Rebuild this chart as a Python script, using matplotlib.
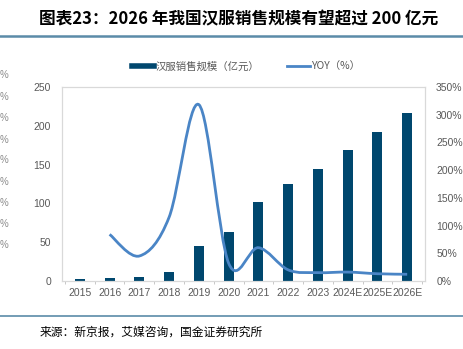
import matplotlib
matplotlib.use("Agg")
import matplotlib.pyplot as plt
import numpy as np
from matplotlib.path import Path
from matplotlib.patches import PathPatch
from matplotlib.lines import Line2D
from matplotlib.ticker import FuncFormatter

plt.rcParams['font.family'] = ['Noto Sans CJK SC', 'DejaVu Sans']

years = ['2015', '2016', '2017', '2018', '2019', '2020', '2021', '2022', '2023',
         '2024E', '2025E', '2026E']
sales = [1.9, 4.0, 5.3, 10.9, 45.5, 63.5, 101.5, 125.0, 144.7, 168.4, 191.6, 216.0]
yoy = [None, 84, 45, 115, 318, 32, 60, 20, 15, 16, 13, 12]

bar_color = '#00476E'
line_color = '#4A85C6'
grey = '#595959'
tick_font = 'Liberation Sans'

fig = plt.figure(figsize=(4.64, 3.49), dpi=100)
ax = fig.add_axes([0.1336, 0.195, 0.7824, 0.556])
ax2 = ax.twinx()

x = np.arange(len(years))
ax.bar(x, sales, width=0.34, color=bar_color, zorder=2)
ax.set_ylim(0, 250)
ax.set_yticks(range(0, 251, 50))
ax.set_xlim(-0.6, len(years) - 0.4)
ax.set_xticks(x)
ax.set_xticklabels(years)
ax.set_xticks(np.arange(-0.5, len(years), 1), minor=True)
ax.tick_params(axis='x', which='major', length=0, labelsize=7.5, colors=grey, pad=5)
ax.tick_params(axis='x', which='minor', length=2, color='#BFBFBF')
ax.tick_params(axis='y', length=0, labelsize=7.5, colors=grey, pad=8)

# smoothed YOY line: cubic bezier through each point (Catmull-Rom style handles)
pts = [(i, v) for i, v in enumerate(yoy) if v is not None]
verts = [pts[0]]
codes = [Path.MOVETO]
for k in range(len(pts) - 1):
    p0 = pts[k - 1] if k > 0 else pts[k]
    p1 = pts[k]
    p2 = pts[k + 1]
    p3 = pts[k + 2] if k + 2 < len(pts) else pts[k + 1]
    c1 = (p1[0] + (p2[0] - p0[0]) / 6, p1[1] + (p2[1] - p0[1]) / 6)
    c2 = (p2[0] - (p3[0] - p1[0]) / 6, p2[1] - (p3[1] - p1[1]) / 6)
    verts += [c1, c2, p2]
    codes += [Path.CURVE4] * 3
ax2.add_patch(PathPatch(Path(verts, codes), facecolor='none', edgecolor=line_color,
                        lw=2, capstyle='butt', zorder=3))
ax2.set_ylim(0, 350)
ax2.set_yticks(range(0, 351, 50))
ax2.yaxis.set_major_formatter(FuncFormatter(lambda v, p: f'{v:.0f}%'))
ax2.tick_params(axis='y', length=0, labelsize=7.5, colors=grey, pad=8)

for a in (ax, ax2):
    for s in a.spines.values():
        s.set_color('#D9D9D9')
        s.set_linewidth(0.8)
    for lbl in a.get_xticklabels() + a.get_yticklabels():
        lbl.set_family(tick_font)

handles = [Line2D([], [], color=bar_color, lw=4),
           Line2D([], [], color=line_color, lw=2)]
fig.legend(handles, ['汉服销售规模（亿元）', 'YOY（%）'], loc='center',
           bbox_to_anchor=(0.53, 0.81), ncol=2, frameon=False, fontsize=7.5,
           labelcolor=grey, handlelength=2.2, handletextpad=0.15, columnspacing=2.6)

# percent labels along the left edge
for yy in [75, 97, 118, 140, 160, 182, 203, 224, 245]:
    fig.text(0.0, 1 - yy / 349, '%', ha='left', va='center', fontsize=7,
             color='#8C8C8C', family=tick_font)

fig.text(0.085, 0.943, '图表23：2026 年我国汉服销售规模有望超过 200 亿元',
         fontsize=12, fontweight='bold', color='black', va='center')
fig.add_artist(Line2D([0, 1], [1 - 36 / 349] * 2, color='#5B8BA8', lw=1.8))
fig.add_artist(Line2D([0, 1], [1 - 316 / 349] * 2, color='#5B8BA8', lw=1.2))
fig.text(0.085, 1 - 332 / 349, '来源：新京报，艾媒咨询，国金证券研究所',
         fontsize=8.5, color='black', va='center')

fig.savefig('out.png', dpi=100)
